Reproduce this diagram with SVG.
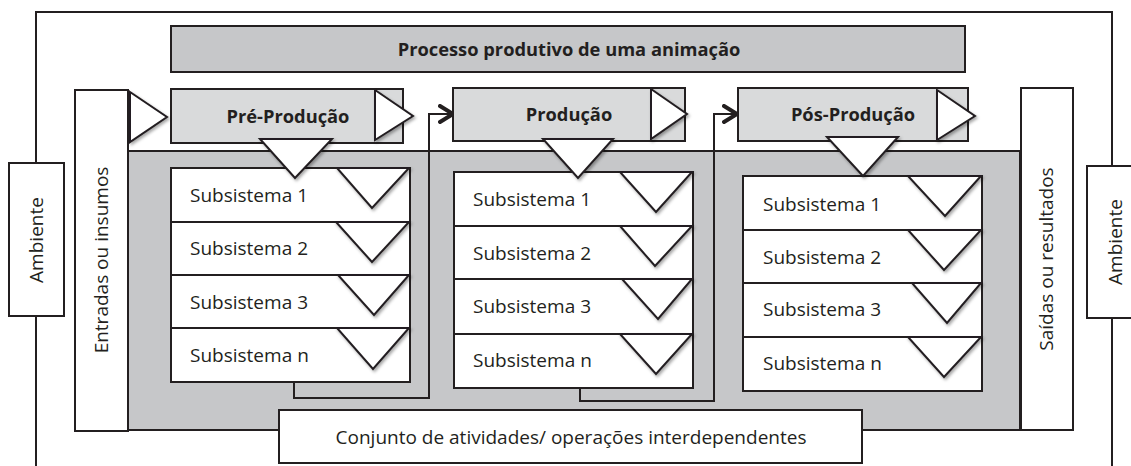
<svg xmlns="http://www.w3.org/2000/svg" width="1131" height="466" viewBox="0 0 1131 466">
<style>
.ln{fill:none;stroke:#231f20;stroke-width:2}
.box{fill:#fff;stroke:#231f20;stroke-width:2}
.gray{fill:#c6c7c9;stroke:#231f20;stroke-width:2}
.phase{fill:#d9dadb;stroke:#231f20;stroke-width:2}
.tri{fill:#fff;stroke:#231f20;stroke-width:2;filter:url(#sh)}
.t{font-family:"Open Sans","Liberation Sans",sans-serif;font-size:19px;fill:#231f20}
.b{font-family:"Open Sans","Liberation Sans",sans-serif;font-size:18.3px;font-weight:bold;fill:#231f20;text-anchor:middle}
.c{text-anchor:middle}
</style>
<defs>
<filter id="sh" x="-30%" y="-30%" width="160%" height="160%">
<feDropShadow dx="1.5" dy="2" stdDeviation="1.8" flood-color="#000" flood-opacity="0.35"/>
</filter>
<marker id="arr" viewBox="0 0 20 20" refX="15" refY="10" markerWidth="20" markerHeight="20" markerUnits="userSpaceOnUse" orient="auto">
<path d="M2,2 L15,10 L2,18" fill="none" stroke="#231f20" stroke-width="4" stroke-linecap="round" stroke-linejoin="miter"/>
</marker>
</defs>

<g id="frame">
<path class="ln" d="M36,163 V12 H1112 V166"/>
<path class="ln" d="M36,316 V466"/>
<path class="ln" d="M1112,318 V466"/>
</g>

<g id="ambiente-left">
<rect class="box" x="9" y="163" width="55" height="153"/>
<text class="t c" transform="translate(43,240) rotate(-90)">Ambiente</text>
</g>
<g id="ambiente-right">
<rect class="box" x="1087" y="166" width="50" height="152"/>
<text class="t c" transform="translate(1122,242) rotate(-90)">Ambiente</text>
</g>

<g id="title">
<rect class="gray" x="171" y="26" width="794" height="46"/>
<text class="b" x="569" y="56">Processo produtivo de uma animação</text>
</g>

<g id="area">
<rect class="gray" x="128" y="151" width="892" height="279"/>
</g>

<g id="connectors">
<path class="ln" d="M294,382 V398 H429 V114 H453" marker-end="url(#arr)"/>
<path class="ln" d="M580,388 V401 H714 V114 H737" marker-end="url(#arr)"/>
</g>

<g id="col1">
<rect class="box" x="171" y="168" width="239" height="54"/>
<rect class="box" x="171" y="222" width="239" height="53"/>
<rect class="box" x="171" y="275" width="239" height="53"/>
<rect class="box" x="171" y="328" width="239" height="54"/>
<polygon class="tri" points="337,168 409,168 372,208"/>
<polygon class="tri" points="336,222 409,222 372,262"/>
<polygon class="tri" points="338,275 409,275 374,315"/>
<polygon class="tri" points="337,328 409,328 373,369"/>
<text class="t" x="190" y="202">Subsistema 1</text>
<text class="t" x="190" y="255">Subsistema 2</text>
<text class="t" x="190" y="309">Subsistema 3</text>
<text class="t" x="190" y="362">Subsistema n</text>
</g>

<g id="col2">
<rect class="box" x="454" y="172" width="239" height="54"/>
<rect class="box" x="454" y="226" width="239" height="53"/>
<rect class="box" x="454" y="279" width="239" height="55"/>
<rect class="box" x="454" y="334" width="239" height="54"/>
<polygon class="tri" points="620,172 692,172 656,212"/>
<polygon class="tri" points="620,226 692,226 655,266"/>
<polygon class="tri" points="622,279 692,279 658,319"/>
<polygon class="tri" points="620,334 692,334 656,374"/>
<text class="t" x="473" y="206">Subsistema 1</text>
<text class="t" x="473" y="260">Subsistema 2</text>
<text class="t" x="473" y="313">Subsistema 3</text>
<text class="t" x="473" y="367">Subsistema n</text>
</g>

<g id="col3">
<rect class="box" x="743" y="176" width="239" height="54"/>
<rect class="box" x="743" y="230" width="239" height="53"/>
<rect class="box" x="743" y="283" width="239" height="54"/>
<rect class="box" x="743" y="337" width="239" height="54"/>
<polygon class="tri" points="908,176 981,176 945,216"/>
<polygon class="tri" points="908,230 981,230 944,270"/>
<polygon class="tri" points="912,283 981,283 947,323"/>
<polygon class="tri" points="908,337 981,337 944,377"/>
<text class="t" x="763" y="211">Subsistema 1</text>
<text class="t" x="763" y="264">Subsistema 2</text>
<text class="t" x="763" y="316">Subsistema 3</text>
<text class="t" x="763" y="370">Subsistema n</text>
</g>

<g id="pre-producao">
<rect class="phase" x="171" y="89" width="232" height="54"/>
<polygon class="tri" points="375,90 413,116 375,140"/>
<polygon class="tri" points="260,139 332,139 295,178"/>
<text class="b" x="288" y="123">Pré-Produção</text>
</g>
<g id="producao">
<rect class="phase" x="453" y="88" width="232" height="53"/>
<polygon class="tri" points="651,89 687,114 651,139"/>
<polygon class="tri" points="543,139 613,139 578,178"/>
<text class="b" x="569" y="121">Produção</text>
</g>
<g id="pos-producao">
<rect class="phase" x="738" y="88" width="230" height="53"/>
<polygon class="tri" points="937,90 975,116 937,140"/>
<polygon class="tri" points="827,137 898,137 863,176"/>
<text class="b" x="853" y="121">Pós-Produção</text>
</g>

<g id="entradas">
<rect class="box" x="75" y="90" width="53" height="341"/>
<polygon class="tri" points="130,92 167,117 130,142"/>
<text class="t c" transform="translate(108,260) rotate(-90)">Entradas ou insumos</text>
</g>
<g id="saidas">
<rect class="box" x="1021" y="88" width="52" height="342"/>
<text class="t c" transform="translate(1053,259) rotate(-90)">Saídas ou resultados</text>
</g>

<g id="conjunto">
<rect class="box" x="279" y="410" width="583" height="53"/>
<text class="t c" x="571" y="444">Conjunto de atividades/ operações interdependentes</text>
</g>
</svg>
